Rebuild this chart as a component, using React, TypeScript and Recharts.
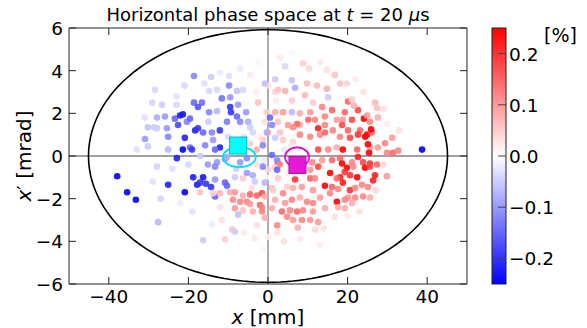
import React from 'react';
import { ScatterChart, Scatter, XAxis, YAxis, ReferenceLine } from 'recharts';

// particle positions x [mm], angles x' [mrad], momentum deviation [%]
const XS: number[] = [
  -18.6, -14.3, -9.8, -9.8, -7.8, -14.8, -12.8, -6.3, -11.6, -9.5, -18.6, -16.6, -17.6, -9.5, -7.5, -14.8, -12.8, -9.3, -5.5, -26.6,
  -27.9, -25.9, -23.4, -22.1, -21.4, -22.6, -20.4, -19.6, -18.3, -17.6, -16.3, -14.1, -12.1, -10.3, -7.8, -7.0, -5.0, -25.4, -27.9, -25.1,
  -20.9, -19.6, -21.4, -19.1, -15.8, -13.8, -12.1, -13.3, -25.1, -22.9, -27.9, -15.1, -12.8, -18.8, -16.3, -10.8, -7.0, -5.3, -7.8, -4.5,
  -3.8, -0.3, -2.5, 0.0, -4.5, -2.8, -1.3, 0.0, 1.8, -0.8, -28.4, -29.1, -30.2, -28.6, -30.9, -30.2, -37.9, -35.4, -33.2, -27.6,
  -25.1, -20.9, -17.8, -17.1, -15.6, -14.3, -13.3, -13.3, -10.8, -10.3, -13.3, -17.1, -13.8, -12.1, -9.5, -8.3, -8.8, -7.0, -8.3, -6.3,
  -4.5, -2.8, -1.5, -5.3, -4.5, -2.0, -1.5, -3.8, -6.3, -7.5, -0.8, -11.6, -9.0, -10.8, -8.3, -16.3, -3.3, -0.8, -3.8, -5.3,
  -8.3, -6.3, 1.0, 2.5, -2.8, -3.3, 2.5, 0.0, -10.3,
  8.8, 4.3, 10.3, 13.1, 14.8, 16.8, -0.8, 1.8, 6.0, 6.8, 9.8, 12.3, 14.8, 18.1, 19.8, 2.5, 4.3, 9.3, 11.3, 6.0,
  15.1, 20.1, 22.6, 26.9, 27.6, 1.8, 3.8, 6.0, 8.0, 10.6, 13.6, 14.3, 16.1, 19.3, 17.3, 18.8, 21.1, 24.1, 25.6, 23.1,
  24.9, 24.4, 22.6, 20.1, 18.6, 16.3, 14.3, 12.6, 11.8, 10.1, 8.0, 7.3, 6.3, 5.0, 2.5, 0.5, 1.0, -0.3, 3.0, 8.0,
  10.6, 13.1, 14.3, 18.1, 20.6, 26.1, 29.4, 31.2, 1.8, 3.8, 6.3, 12.6, 15.1, 17.3, 18.8, 22.4, 25.6, 27.6, -1.3, 1.0,
  2.3, 3.0, 11.1, 13.6, 16.1, 18.1, 21.1, 22.6, 23.9, 25.6, 27.4, 18.6, 19.8, 12.6, 15.6, 18.1, 20.6, 22.4, 26.9, 10.6,
  -1.3, 1.8, 21.1, 21.6, 24.9, 27.4, 25.9, 25.1, 29.9, 31.4, 32.7, 25.4, 38.7, 21.4, 24.4, 25.6, 26.4, 29.9, 20.6, 21.9,
  23.6, 25.1, 20.1, 21.9, 23.9, 25.6, 21.1, 19.3, 2.3, 6.8, 4.8, 1.3, 3.8, 6.3, 8.5, 10.6, 11.8, 11.3, 14.3, 16.1,
  17.6, 18.8, 19.3, 17.3, 13.1, 15.6, 17.3, 19.3, 11.3, 9.8, 8.0, 6.0, 4.3, 1.8, -0.8, -1.5, 1.0, 3.5, 5.5, 7.3,
  8.8, 11.3, 14.3, 17.6, 4.8, 6.3, 8.5, 10.6, 12.6, 2.3, 7.5, 11.8, 2.3, 16.8,
];
const YS: number[] = [
  3.75, 3.7, 3.75, 3.3, 3.05, 3.05, 3.1, 3.1, 2.7, 2.75, 2.5, 2.5, 2.3, 2.3, 2.4, 2.05, 2.1, 2.05, 2.05, 2.4,
  1.8, 1.85, 1.75, 1.9, 1.95, 1.45, 1.6, 1.75, 1.2, 1.3, 1.1, 1.1, 1.2, 1.6, 1.85, 1.6, 1.6, 1.3, 1.3, 0.9,
  0.85, 0.4, 0.3, 0.3, 0.5, 0.75, 0.4, 0.3, 0.3, -0.1, -0.5, -0.4, -0.3, -1.0, -1.0, -0.15, -0.3, -0.1, 0.4, 1.35,
  1.1, 2.05, 2.5, 1.1, 0.6, 0.3, 0.75, 3.3, 3.0, 1.6, 3.1, 2.5, 1.35, 1.35, 0.8, 0.45, -0.95, -1.7, -2.05, -3.1,
  -1.35, -1.7, -1.35, -1.25, -1.3, -1.45, -1.1, -0.5, -1.25, -1.4, -1.9, -1.7, -1.75, -1.75, -1.7, -1.7, -2.05, -2.15, -2.45, -1.85,
  -1.8, -1.85, -1.75, -2.15, -2.25, -2.3, -2.6, -2.6, -2.55, -2.75, -2.9, -3.0, -3.45, -3.9, -3.55, -3.95, -1.2, -1.25, -0.9, -0.8,
  -1.0, -1.05, -1.5, -1.05, -3.25, -3.85, -0.35, -0.65, -0.05,
  4.35, 4.2, 4.1, 4.4, 4.05, 3.8, 3.4, 3.6, 3.55, 3.2, 3.4, 3.3, 3.15, 3.4, 3.4, 3.1, 3.05, 2.85, 2.5, 2.6,
  2.75, 2.55, 2.15, 2.5, 1.8, 2.05, 2.05, 2.05, 2.0, 2.05, 2.3, 1.85, 2.15, 2.05, 1.7, 1.7, 1.7, 1.75, 1.6, 1.2,
  1.0, 0.9, 1.0, 1.2, 1.45, 1.2, 1.45, 1.3, 1.7, 1.7, 1.45, 1.5, 1.35, 1.45, 1.6, 1.8, 1.45, 1.1, 1.1, 1.0,
  0.9, 1.0, 1.1, 0.9, 0.85, 1.1, 0.6, 0.85, 0.85, 0.75, 0.65, 0.3, 0.3, 0.4, 0.3, 0.3, 0.4, 0.4, 0.5, 0.05,
  -0.2, -0.4, -0.3, -0.2, -0.2, -0.1, -0.3, -0.05, -0.3, -0.35, -0.4, -0.35, -0.55, -0.5, -0.8, -1.0, -0.9, -1.0, -0.9, -0.65,
  -0.5, -0.55, 2.65, 2.35, 1.9, 2.25, 1.25, 0.55, 0.15, 0.15, 0.25, 0.15, 0.3, -0.5, -0.55, -0.5, -1.15, -0.95, -1.6, -1.5,
  -1.35, -1.45, -1.95, -1.95, -1.9, -1.95, -2.2, -2.45, -0.65, -1.1, -1.45, -1.6, -1.75, -1.5, -1.45, -1.05, -1.05, -1.6, -1.4, -1.45,
  -1.55, -1.25, -0.75, -1.05, -1.95, -1.75, -2.15, -2.05, -2.2, -2.15, -1.95, -2.05, -2.2, -2.05, -1.9, -2.4, -2.45, -2.6, -2.55, -2.6,
  -2.55, -2.6, -2.45, -2.4, -2.85, -3.0, -3.0, -3.0, -3.1, -3.25, -3.35, -3.45, -3.6, -2.85,
];
const DS: number[] = [
  -0.12, -0.05, -0.03, -0.12, -0.06, -0.04, -0.04, -0.04, -0.14, -0.1, -0.15, -0.14, -0.17, -0.2, -0.1, -0.12, -0.07, -0.2, -0.1, -0.05,
  -0.08, -0.1, -0.15, -0.22, -0.23, -0.18, -0.12, -0.15, -0.22, -0.2, -0.15, -0.12, -0.2, -0.13, -0.15, -0.12, -0.08, -0.1, -0.05, -0.12,
  -0.22, -0.15, -0.25, -0.2, -0.12, -0.1, -0.22, -0.15, -0.07, -0.22, -0.04, -0.1, -0.1, -0.22, -0.23, -0.1, -0.1, -0.12, -0.06, -0.05,
  -0.04, 0.05, 0.06, 0.08, 0.05, 0.08, 0.05, 0.03, 0.04, 0.03, -0.04, -0.04, -0.06, -0.05, -0.1, -0.05, -0.25, -0.25, -0.25, -0.07,
  -0.22, -0.25, -0.22, -0.2, -0.2, -0.2, -0.1, -0.12, -0.15, -0.15, -0.15, 0.06, 0.05, 0.07, 0.08, 0.1, 0.12, 0.12, 0.1, 0.08,
  0.15, 0.15, 0.18, 0.12, 0.1, 0.15, 0.12, 0.08, 0.06, -0.06, 0.08, 0.03, 0.06, 0.05, -0.05, -0.05, -0.05, -0.07, -0.08, -0.1,
  -0.05, 0.05, 0.06, 0.05, 0.03, 0.02, 0.15, 0.04, -0.08,
  0.05, -0.04, 0.04, 0.02, 0.03, 0.06, -0.06, -0.05, -0.06, -0.08, 0.07, 0.07, 0.08, 0.06, 0.04, 0.06, 0.08, 0.07, 0.05, 0.05,
  -0.05, 0.15, 0.18, 0.07, 0.08, 0.08, 0.1, -0.07, 0.08, 0.1, 0.12, 0.12, 0.15, 0.15, 0.1, 0.1, 0.18, 0.25, 0.12, 0.15,
  0.25, 0.25, 0.2, 0.15, 0.18, 0.12, 0.12, 0.22, 0.12, 0.15, 0.08, 0.15, 0.12, 0.1, 0.06, -0.15, -0.12, -0.08, 0.06, 0.12,
  0.12, 0.12, 0.15, 0.12, 0.18, 0.15, 0.12, 0.1, -0.05, 0.05, 0.04, 0.18, 0.12, 0.08, 0.25, 0.15, 0.1, 0.1, -0.12, -0.15,
  -0.12, 0.12, 0.12, 0.1, 0.15, 0.15, 0.12, 0.22, 0.18, 0.2, 0.15, 0.25, 0.25, 0.18, 0.25, 0.22, 0.2, 0.25, 0.22, 0.1,
  -0.12, 0.05, 0.05, 0.08, 0.1, 0.06, 0.25, 0.25, 0.12, 0.15, 0.12, 0.25, -0.25, 0.12, 0.25, 0.18, 0.22, 0.1, 0.2, 0.12,
  0.12, 0.12, 0.1, 0.12, 0.12, 0.08, 0.08, 0.08, -0.15, 0.2, 0.05, 0.05, 0.12, 0.08, 0.1, 0.15, 0.12, 0.1, 0.25, 0.15,
  0.12, 0.22, 0.2, 0.15, 0.1, 0.12, 0.25, 0.12, 0.12, 0.12, 0.08, 0.12, 0.1, 0.08, 0.08, 0.12, 0.08, 0.15, 0.12, 0.15,
  0.12, 0.1, 0.08, 0.08, 0.12, 0.1, 0.12, 0.1, 0.1, 0.12, 0.08, 0.04, 0.03, 0.03,
];

// faint particles (momentum close to nominal), drawn first
const XF: number[] = [
  -7.0, -2.5, 3.0, 6.0, -4.5, -12.0, -16.0, -21.0, -23.0, 22.0, 24.0, 29.0, 30.0, 33.0,
  -2.0, -1.0, 0.5, -3.0, 4.0, 5.0, -6.0, -4.0, 2.0, -3.0,
  -12.0, -14.0, -6.0, 0.0, 4.0, 8.0, -1.0, 14.0, 20.0, 23.0, 27.0, 29.0, 13.0, -19.0, -22.0, -24.0,
  -20.0, -17.0, -10.0, -8.0, -15.0, -23.0, -31.0, -33.0, -29.0, -27.0,
];
const YF: number[] = [
  4.1, 4.4, 4.6, 4.8, 3.8, 3.9, 3.4, 3.3, 2.8, 3.6, 3.0, 2.2, 1.5, 1.2,
  0.9, -0.2, -1.0, -0.4, 0.3, -0.8, 0.9, -1.5, 2.6, 3.0,
  -2.4, -3.2, -3.6, -3.8, -4.0, -3.9, -4.4, -3.4, -2.8, -2.6, -1.6, -0.4, -4.2, -2.6, -2.2, -0.6,
  -0.4, 0.0, 0.9, -0.6, 1.6, 2.4, 1.8, 0.3, -1.2, -2.0,
];
const DF: number[] = [
  -0.02, 0.01, 0.02, 0.01, 0.02, -0.02, -0.03, -0.04, -0.03, 0.02, 0.03, 0.03, 0.02, 0.03,
  0.02, -0.02, 0.01, 0.03, -0.02, 0.02, -0.03, 0.03, 0.02, 0.02,
  0.03, -0.02, 0.02, 0.02, 0.03, 0.02, 0.01, 0.03, 0.02, 0.03, 0.04, 0.04, 0.02, -0.03, -0.02, -0.03,
  -0.04, -0.05, -0.04, -0.05, -0.05, -0.04, -0.03, -0.03, -0.03, -0.04,
];

// beam centroids and rms ellipses
const CYAN_CENTROID = { x: -7.5, y: 0.49 };
const MAGENTA_CENTROID = { x: 7.4, y: -0.42 };
const CYAN_ELLIPSE = { cx: -7.2, cy: -0.05, a: 4.1, b: 0.47 };
const MAGENTA_ELLIPSE = { cx: 7.3, cy: -0.05, a: 3.0, b: 0.45 };
const ACCEPTANCE = { cx: 0, cy: 0, a: 45.1, b: 5.92 };

const XTICKS = [-40, -20, 0, 20, 40];
const YTICKS = [-6, -4, -2, 0, 2, 4, 6];
const CTICKS = [0.2, 0.1, 0.0, -0.1, -0.2];
const CMIN = -0.25;
const CMAX = 0.25;

const FONT = 'DejaVu Sans';
const TFS = 18.5;
const fmt = (v: number, d = 0) => (v < 0 ? '\u2212' : '') + Math.abs(v).toFixed(d);

function bwr(v: number) {
  let t = (v - CMIN) / (CMAX - CMIN);
  t = Math.max(0, Math.min(1, t));
  let r, g, b;
  if (t < 0.5) {
    r = g = 2 * t;
    b = 1;
  } else {
    r = 1;
    g = b = 2 * (1 - t);
  }
  const h = (c: number) => Math.round(c * 255).toString(16).padStart(2, '0');
  return '#' + h(r) + h(g) + h(b);
}

const faint = XF.map((x, i) => ({ x, y: YF[i], d: DF[i], color: bwr(DF[i]) }));
const points = XS.map((x, i) => ({ x, y: YS[i], d: DS[i], color: bwr(DS[i]) }));

function ellipsePts(e: { cx: number; cy: number; a: number; b: number }) {
  const out: { x: number; y: number }[] = [];
  const n = 180;
  for (let k = 0; k <= n; k++) {
    const t = (2 * Math.PI * k) / n;
    out.push({ x: e.cx + e.a * Math.cos(t), y: e.cy + e.b * Math.sin(t) });
  }
  return out;
}

const TICKLEN = 7;
const AX = '#222';

const BottomTick = (p: any) => (
  <g>
    <line x1={p.x} x2={p.x} y1={p.y} y2={p.y - TICKLEN} stroke={AX} strokeWidth={1} />
    <text x={p.x} y={p.y + 19} textAnchor="middle" fontSize={TFS} fontFamily={FONT} fill="#000">
      {fmt(p.payload.value)}
    </text>
  </g>
);
const TopTick = (p: any) => (
  <line x1={p.x} x2={p.x} y1={p.y} y2={p.y + TICKLEN} stroke={AX} strokeWidth={1} />
);
const LeftTick = (p: any) => (
  <g>
    <line x1={p.x} x2={p.x + TICKLEN} y1={p.y} y2={p.y} stroke={AX} strokeWidth={1} />
    <text x={p.x - 6} y={p.y + 7} textAnchor="end" fontSize={TFS} fontFamily={FONT} fill="#000">
      {fmt(p.payload.value)}
    </text>
  </g>
);
const RightTick = (p: any) => (
  <line x1={p.x} x2={p.x - TICKLEN} y1={p.y} y2={p.y} stroke={AX} strokeWidth={1} />
);

const Dot = (p: any) => <circle cx={p.cx} cy={p.cy} r={3.3} fill={p.payload.color} fillOpacity={0.9} />;
const NoShape = () => <g />;
const Square = (color: string, edge: string) => (p: any) => (
  <rect x={p.cx - 8.5} y={p.cy - 8.5} width={17} height={17} fill={color} stroke={edge} strokeWidth={1} />
);

// colorbar geometry (legend, not data)
const CB = { x: 492, y: 28, w: 14, h: 256 };
const cbY = (v: number) => CB.y + ((CMAX - v) / (CMAX - CMIN)) * CB.h;

export default function App() {
  return (
    <div style={{ position: 'absolute', left: 0, top: 0, width: 587, height: 328, background: '#fff' }}>
      <ScatterChart width={587} height={328} margin={{ top: 0, right: 119, bottom: 0, left: 0 }}>
        <XAxis
          xAxisId={0}
          type="number"
          dataKey="x"
          domain={[-50, 50]}
          ticks={XTICKS}
          interval={0}
          allowDataOverflow
          height={44}
          tickSize={0}
          tickMargin={0}
          tickLine={false}
          axisLine={{ stroke: AX, strokeWidth: 1 }}
          tick={BottomTick}
        />
        <XAxis
          xAxisId="top"
          orientation="top"
          type="number"
          dataKey="x"
          domain={[-50, 50]}
          ticks={XTICKS}
          interval={0}
          allowDataOverflow
          height={28}
          tickSize={0}
          tickMargin={0}
          tickLine={false}
          axisLine={{ stroke: AX, strokeWidth: 1 }}
          tick={TopTick}
        />
        <YAxis
          yAxisId={0}
          type="number"
          dataKey="y"
          domain={[-6, 6]}
          ticks={YTICKS}
          interval={0}
          allowDataOverflow
          width={69}
          tickSize={0}
          tickMargin={0}
          tickLine={false}
          axisLine={{ stroke: AX, strokeWidth: 1 }}
          tick={LeftTick}
        />
        <YAxis
          yAxisId="right"
          orientation="right"
          type="number"
          dataKey="y"
          domain={[-6, 6]}
          ticks={YTICKS}
          interval={0}
          allowDataOverflow
          width={1}
          tickSize={0}
          tickMargin={0}
          tickLine={false}
          axisLine={{ stroke: AX, strokeWidth: 1 }}
          tick={RightTick}
        />
        <Scatter data={faint} shape={Dot} isAnimationActive={false} />
        <Scatter data={points} shape={Dot} isAnimationActive={false} />
        <ReferenceLine x={0} stroke="#808080" strokeWidth={1.3} />
        <ReferenceLine y={0} stroke="#808080" strokeWidth={1.3} />
        <Scatter data={ellipsePts(ACCEPTANCE)} line={{ stroke: '#000', strokeWidth: 1.6 }} shape={NoShape} isAnimationActive={false} />
        <Scatter data={ellipsePts(CYAN_ELLIPSE)} line={{ stroke: '#00e5f0', strokeWidth: 2 }} shape={NoShape} isAnimationActive={false} />
        <Scatter data={ellipsePts(MAGENTA_ELLIPSE)} line={{ stroke: '#e010d0', strokeWidth: 2 }} shape={NoShape} isAnimationActive={false} />
        <Scatter data={[CYAN_CENTROID]} shape={Square('#00ffff', '#00b8c8')} isAnimationActive={false} />
        <Scatter data={[MAGENTA_CENTROID]} shape={Square('#e619d6', '#b010a8')} isAnimationActive={false} />
      </ScatterChart>
      <svg width={587} height={328} style={{ position: 'absolute', left: 0, top: 0, pointerEvents: 'none' }}>
        <defs>
          <linearGradient id="bwr" x1="0" y1="0" x2="0" y2="1">
            <stop offset="0" stopColor="#ff0000" />
            <stop offset="0.5" stopColor="#ffffff" />
            <stop offset="1" stopColor="#0000ff" />
          </linearGradient>
        </defs>
        <text x={268} y={21} textAnchor="middle" fontSize={18} fontFamily={FONT} fill="#000">
          Horizontal phase space at <tspan fontStyle="italic">t</tspan> = 20 <tspan fontStyle="italic">μ</tspan>s
        </text>
        <text x={268} y={324} textAnchor="middle" fontSize={20} fontFamily={FONT} fill="#000">
          <tspan fontStyle="italic">x</tspan> [mm]
        </text>
        <text
          x={0}
          y={0}
          transform="translate(31,156) rotate(-90)"
          textAnchor="middle"
          fontSize={20}
          fontFamily={FONT}
          fill="#000"
        >
          <tspan fontStyle="italic">x</tspan>′ [mrad]
        </text>
        <rect x={CB.x} y={CB.y} width={CB.w} height={CB.h} fill="url(#bwr)" stroke={AX} strokeWidth={1} />
        {CTICKS.map((v) => (
          <g key={v}>
            <line x1={CB.x + CB.w} x2={CB.x + CB.w - 8} y1={cbY(v)} y2={cbY(v)} stroke="#444" strokeWidth={1} />
            <text x={CB.x + CB.w + 3} y={cbY(v) + 7} fontSize={TFS} fontFamily={FONT} fill="#000">
              {fmt(v, 1)}
            </text>
          </g>
        ))}
        <text x={544} y={42} fontSize={19} fontFamily={FONT} fill="#000">
          [%]
        </text>
      </svg>
    </div>
  );
}
